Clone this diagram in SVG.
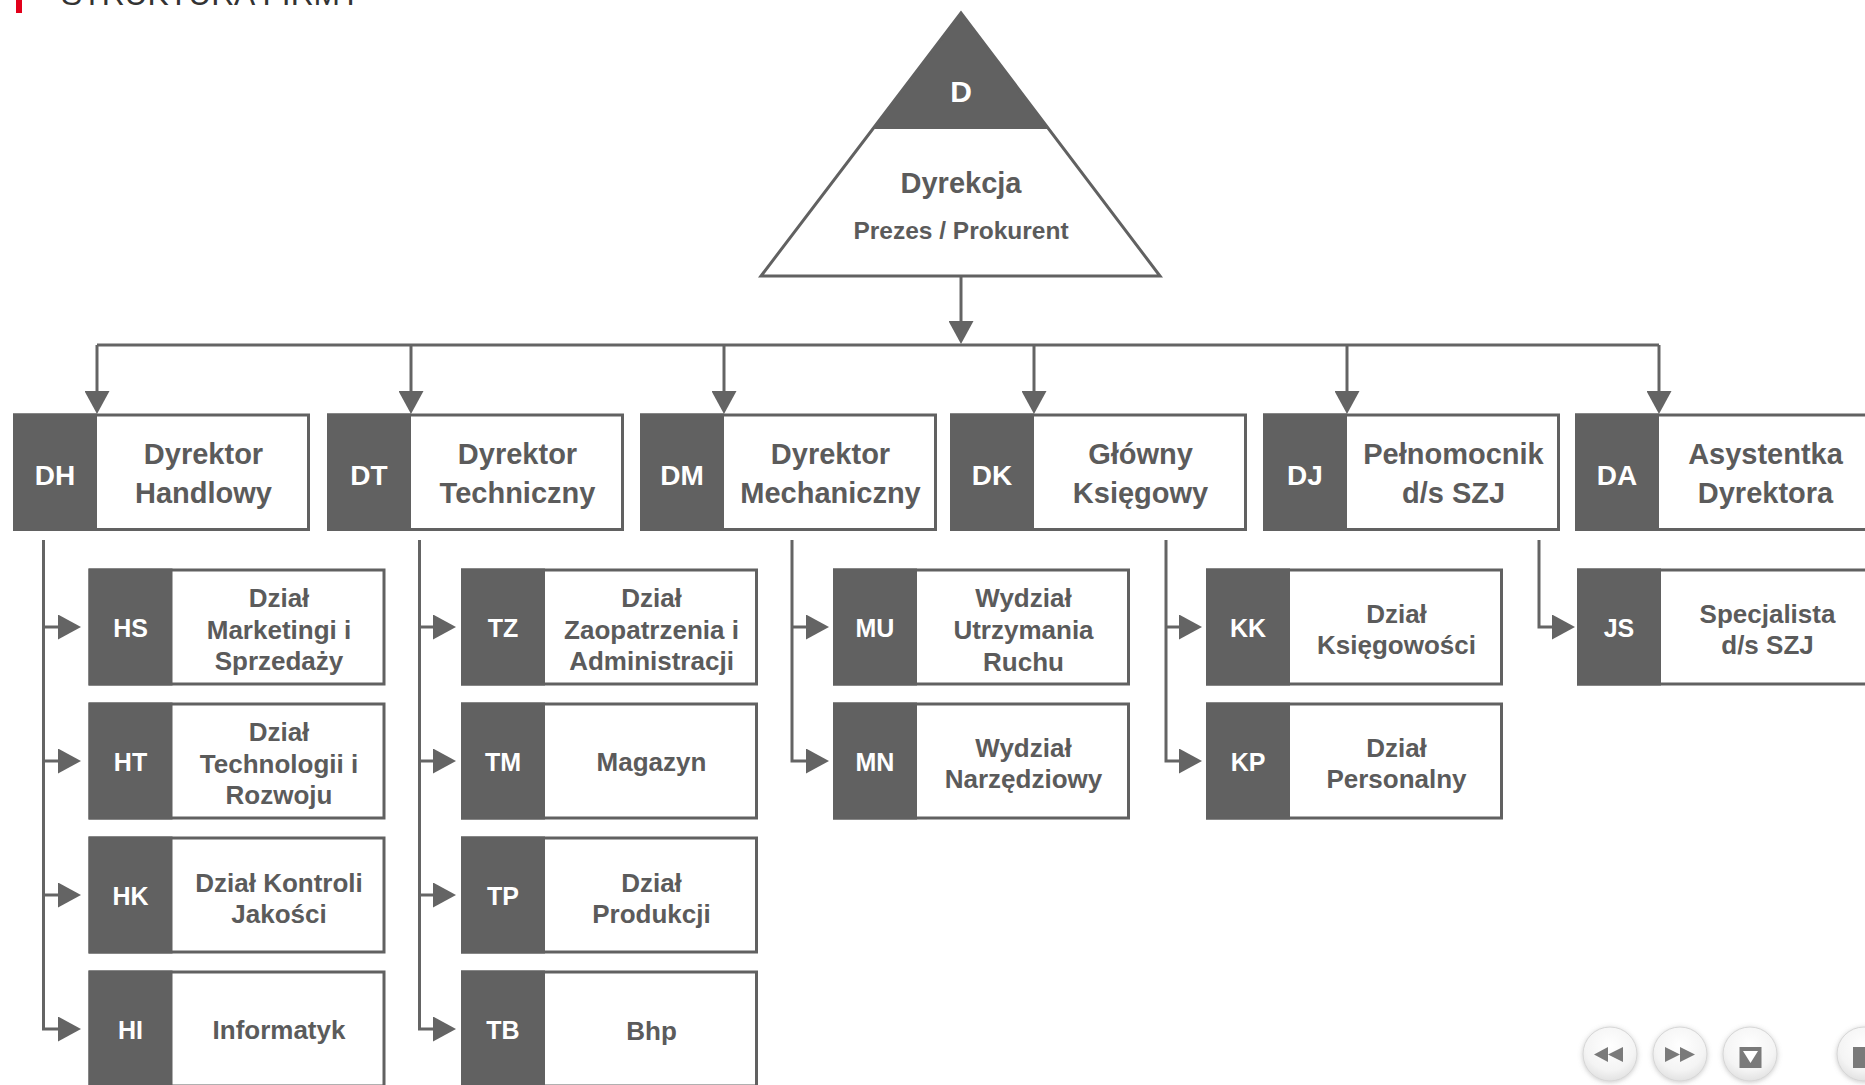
<svg xmlns="http://www.w3.org/2000/svg" width="1865" height="1085" viewBox="0 0 1865 1085">
<style>
  .t{font-family:"Liberation Sans",Arial,sans-serif;font-weight:bold;text-anchor:middle}
  .lbl{fill:#5b5b5b}
  .dl{font-size:29px}
  .sl{font-size:26px}
  .code{fill:#ffffff}
  .dc{font-size:28px}
  .sc{font-size:25px}
  .frame{fill:#ffffff;stroke:#616161;stroke-width:3}
  .dark{fill:#616161}
  .conn{fill:none;stroke:#646464;stroke-width:3}
  .btn{fill:url(#btnGrad);stroke:#d6d6d6;stroke-width:1;filter:url(#btnShadow)}
  .ico{fill:#7a7a7a}
</style>
<defs>
  <marker id="arr" viewBox="0 0 23 25" refX="13" refY="12.5" markerWidth="23" markerHeight="25" markerUnits="userSpaceOnUse" orient="auto">
    <path d="M0,0 L23,12.5 L0,25 Z" fill="#646464"/>
  </marker>
  <radialGradient id="btnGrad" cx="50%" cy="35%" r="65%">
    <stop offset="0" stop-color="#ffffff"/>
    <stop offset="0.7" stop-color="#f4f4f4"/>
    <stop offset="1" stop-color="#e2e2e2"/>
  </radialGradient>
  <filter id="btnShadow" x="-30%" y="-30%" width="160%" height="160%">
    <feDropShadow dx="0" dy="1" stdDeviation="2.5" flood-color="#8a8a8a" flood-opacity="0.45"/>
  </filter>
</defs>
<rect width="1865" height="1085" fill="#ffffff"/>

<!-- title (cut at top, as in the reference) -->
<rect x="16" y="0" width="6" height="13" fill="#e2001a"/>
<text x="61" y="5" font-family="'Liberation Sans',Arial,sans-serif" font-size="31.8" fill="#333333">STRUKTURA FIRMY</text>

<!-- connectors -->
<g id="connectors" class="conn">
  <path d="M961,276 V334" marker-end="url(#arr)"/>
  <path d="M97,345 H1659"/>
  <path d="M97,345 V404" marker-end="url(#arr)"/>
  <path d="M411,345 V404" marker-end="url(#arr)"/>
  <path d="M724,345 V404" marker-end="url(#arr)"/>
  <path d="M1034,345 V404" marker-end="url(#arr)"/>
  <path d="M1347,345 V404" marker-end="url(#arr)"/>
  <path d="M1659,345 V404" marker-end="url(#arr)"/>
  <path d="M43.5,540 V1029 H71" marker-end="url(#arr)"/>
  <path d="M43.5,627 H71" marker-end="url(#arr)"/>
  <path d="M43.5,761 H71" marker-end="url(#arr)"/>
  <path d="M43.5,895 H71" marker-end="url(#arr)"/>
  <path d="M419.5,540 V1029 H446" marker-end="url(#arr)"/>
  <path d="M419.5,627 H446" marker-end="url(#arr)"/>
  <path d="M419.5,761 H446" marker-end="url(#arr)"/>
  <path d="M419.5,895 H446" marker-end="url(#arr)"/>
  <path d="M792,540 V761 H819" marker-end="url(#arr)"/>
  <path d="M792,627 H819" marker-end="url(#arr)"/>
  <path d="M1166,540 V761 H1192" marker-end="url(#arr)"/>
  <path d="M1166,627 H1192" marker-end="url(#arr)"/>
  <path d="M1539,540 V627 H1565" marker-end="url(#arr)"/>
</g>

<!-- top node -->
<g id="D">
  <polygon points="961,13 761,276 1160,276" fill="#ffffff"/>
  <polygon points="961,13 873,129 1049,129" class="dark"/>
  <polygon points="961,13 761,276 1160,276" fill="none" stroke="#616161" stroke-width="3"/>
  <text x="961" y="102" class="t code" font-size="30">D</text>
  <text x="961" y="193" class="t lbl dl">Dyrekcja</text>
  <text x="961" y="239" class="t lbl" font-size="24.5">Prezes / Prokurent</text>
</g>

<!-- directors -->
<g id="DH">
  <rect x="14.5" y="415" width="294" height="114.5" class="frame"/>
  <rect x="13" y="413.5" width="84" height="117.5" class="dark"/>
  <text x="55" y="484.5" class="t code dc">DH</text>
  <text x="203.5" y="464" class="t lbl dl">Dyrektor</text>
  <text x="203.5" y="502.5" class="t lbl dl">Handlowy</text>
</g>
<g id="DT">
  <rect x="328.5" y="415" width="294" height="114.5" class="frame"/>
  <rect x="327" y="413.5" width="84" height="117.5" class="dark"/>
  <text x="369" y="484.5" class="t code dc">DT</text>
  <text x="517.5" y="464" class="t lbl dl">Dyrektor</text>
  <text x="517.5" y="502.5" class="t lbl dl">Techniczny</text>
</g>
<g id="DM">
  <rect x="641.5" y="415" width="294" height="114.5" class="frame"/>
  <rect x="640" y="413.5" width="84" height="117.5" class="dark"/>
  <text x="682" y="484.5" class="t code dc">DM</text>
  <text x="830.5" y="464" class="t lbl dl">Dyrektor</text>
  <text x="830.5" y="502.5" class="t lbl dl">Mechaniczny</text>
</g>
<g id="DK">
  <rect x="951.5" y="415" width="294" height="114.5" class="frame"/>
  <rect x="950" y="413.5" width="84" height="117.5" class="dark"/>
  <text x="992" y="484.5" class="t code dc">DK</text>
  <text x="1140.5" y="464" class="t lbl dl">Główny</text>
  <text x="1140.5" y="502.5" class="t lbl dl">Księgowy</text>
</g>
<g id="DJ">
  <rect x="1264.5" y="415" width="294" height="114.5" class="frame"/>
  <rect x="1263" y="413.5" width="84" height="117.5" class="dark"/>
  <text x="1305" y="484.5" class="t code dc">DJ</text>
  <text x="1453.5" y="464" class="t lbl dl">Pełnomocnik</text>
  <text x="1453.5" y="502.5" class="t lbl dl">d/s SZJ</text>
</g>
<g id="DA">
  <rect x="1576.5" y="415" width="294" height="114.5" class="frame"/>
  <rect x="1575" y="413.5" width="84" height="117.5" class="dark"/>
  <text x="1617" y="484.5" class="t code dc">DA</text>
  <text x="1765.5" y="464" class="t lbl dl">Asystentka</text>
  <text x="1765.5" y="502.5" class="t lbl dl">Dyrektora</text>
</g>

<!-- column 1 -->
<g id="HS">
  <rect x="90" y="570" width="294" height="114" class="frame"/>
  <rect x="88.5" y="568.5" width="84" height="117" class="dark"/>
  <text x="130.5" y="636.5" class="t code sc">HS</text>
  <text x="279" y="606.5" class="t lbl sl">Dział</text>
  <text x="279" y="638.5" class="t lbl sl">Marketingi i</text>
  <text x="279" y="670" class="t lbl sl">Sprzedaży</text>
</g>
<g id="HT">
  <rect x="90" y="704" width="294" height="114" class="frame"/>
  <rect x="88.5" y="702.5" width="84" height="117" class="dark"/>
  <text x="130.5" y="770.5" class="t code sc">HT</text>
  <text x="279" y="740.5" class="t lbl sl">Dział</text>
  <text x="279" y="772.5" class="t lbl sl">Technologii i</text>
  <text x="279" y="804" class="t lbl sl">Rozwoju</text>
</g>
<g id="HK">
  <rect x="90" y="838" width="294" height="114" class="frame"/>
  <rect x="88.5" y="836.5" width="84" height="117" class="dark"/>
  <text x="130.5" y="904.5" class="t code sc">HK</text>
  <text x="279" y="891.5" class="t lbl sl">Dział Kontroli</text>
  <text x="279" y="923" class="t lbl sl">Jakości</text>
</g>
<g id="HI">
  <rect x="90" y="972" width="294" height="114" class="frame"/>
  <rect x="88.5" y="970.5" width="84" height="117" class="dark"/>
  <text x="130.5" y="1038.5" class="t code sc">HI</text>
  <text x="279" y="1038.5" class="t lbl sl">Informatyk</text>
</g>

<!-- column 2 -->
<g id="TZ">
  <rect x="462.5" y="570" width="294" height="114" class="frame"/>
  <rect x="461" y="568.5" width="84" height="117" class="dark"/>
  <text x="503" y="636.5" class="t code sc">TZ</text>
  <text x="651.5" y="606.5" class="t lbl sl">Dział</text>
  <text x="651.5" y="638.5" class="t lbl sl">Zaopatrzenia i</text>
  <text x="651.5" y="670" class="t lbl sl">Administracji</text>
</g>
<g id="TM">
  <rect x="462.5" y="704" width="294" height="114" class="frame"/>
  <rect x="461" y="702.5" width="84" height="117" class="dark"/>
  <text x="503" y="770.5" class="t code sc">TM</text>
  <text x="651.5" y="770.5" class="t lbl sl">Magazyn</text>
</g>
<g id="TP">
  <rect x="462.5" y="838" width="294" height="114" class="frame"/>
  <rect x="461" y="836.5" width="84" height="117" class="dark"/>
  <text x="503" y="904.5" class="t code sc">TP</text>
  <text x="651.5" y="891.5" class="t lbl sl">Dział</text>
  <text x="651.5" y="923" class="t lbl sl">Produkcji</text>
</g>
<g id="TB">
  <rect x="462.5" y="972" width="294" height="114" class="frame"/>
  <rect x="461" y="970.5" width="84" height="117" class="dark"/>
  <text x="503" y="1038.5" class="t code sc">TB</text>
  <text x="651.5" y="1040" class="t lbl sl">Bhp</text>
</g>

<!-- column 3 -->
<g id="MU">
  <rect x="834.5" y="570" width="294" height="114" class="frame"/>
  <rect x="833" y="568.5" width="84" height="117" class="dark"/>
  <text x="875" y="636.5" class="t code sc">MU</text>
  <text x="1023.5" y="607" class="t lbl sl">Wydział</text>
  <text x="1023.5" y="639" class="t lbl sl">Utrzymania</text>
  <text x="1023.5" y="670.5" class="t lbl sl">Ruchu</text>
</g>
<g id="MN">
  <rect x="834.5" y="704" width="294" height="114" class="frame"/>
  <rect x="833" y="702.5" width="84" height="117" class="dark"/>
  <text x="875" y="770.5" class="t code sc">MN</text>
  <text x="1023.5" y="756.5" class="t lbl sl">Wydział</text>
  <text x="1023.5" y="788" class="t lbl sl">Narzędziowy</text>
</g>

<!-- column 4 -->
<g id="KK">
  <rect x="1207.5" y="570" width="294" height="114" class="frame"/>
  <rect x="1206" y="568.5" width="84" height="117" class="dark"/>
  <text x="1248" y="636.5" class="t code sc">KK</text>
  <text x="1396.5" y="622.5" class="t lbl sl">Dział</text>
  <text x="1396.5" y="654" class="t lbl sl">Księgowości</text>
</g>
<g id="KP">
  <rect x="1207.5" y="704" width="294" height="114" class="frame"/>
  <rect x="1206" y="702.5" width="84" height="117" class="dark"/>
  <text x="1248" y="770.5" class="t code sc">KP</text>
  <text x="1396.5" y="756.5" class="t lbl sl">Dział</text>
  <text x="1396.5" y="788" class="t lbl sl">Personalny</text>
</g>

<!-- column 5 -->
<g id="JS">
  <rect x="1578.5" y="570" width="294" height="114" class="frame"/>
  <rect x="1577" y="568.5" width="84" height="117" class="dark"/>
  <text x="1619" y="636.5" class="t code sc">JS</text>
  <text x="1767.5" y="622.5" class="t lbl sl">Specjalista</text>
  <text x="1767.5" y="654" class="t lbl sl">d/s SZJ</text>
</g>

<!-- navigation buttons -->
<g id="nav">
  <circle cx="1610" cy="1054" r="27" class="btn"/>
  <circle cx="1680" cy="1054" r="27" class="btn"/>
  <circle cx="1750" cy="1054" r="27" class="btn"/>
  <circle cx="1864" cy="1054" r="27" class="btn"/>
  <polygon points="1594,1054.5 1608,1047 1608,1062" class="ico"/>
  <polygon points="1608,1054.5 1623,1047 1623,1062" class="ico"/>
  <polygon points="1665,1047 1680,1054.5 1665,1062" class="ico"/>
  <polygon points="1680,1047 1695,1054.5 1680,1062" class="ico"/>
  <rect x="1739.5" y="1047" width="22" height="21" class="ico"/>
  <polygon points="1743,1051 1758,1051 1750.5,1063" fill="#ffffff"/>
  <rect x="1853" y="1047" width="22" height="21" class="ico"/>
</g>
</svg>
